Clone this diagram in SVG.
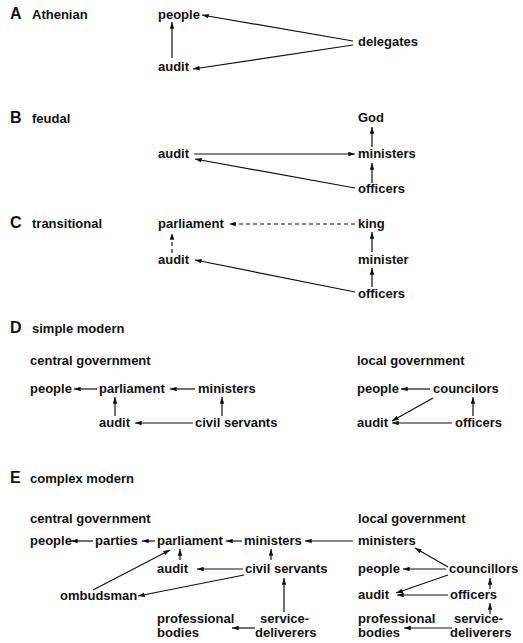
<svg xmlns="http://www.w3.org/2000/svg" width="523" height="643" viewBox="0 0 523 643">
<style>
text { font-family: "Liberation Sans", Arial, sans-serif; font-size: 13px; font-weight: bold; fill: #111; }
.sec { font-size: 16px; }
#connectors line { stroke: #111; stroke-width: 1.2; fill: none; marker-end: url(#ah); }
#connectors line.dash { stroke-dasharray: 4 3; }
</style>
<defs>
<marker id="ah" viewBox="0 0 8 6" refX="8" refY="3" markerWidth="7" markerHeight="5" markerUnits="userSpaceOnUse" orient="auto">
<path d="M0,0.3 L8,3 L0,5.7 z" fill="#111"/>
</marker>
</defs>
<rect width="523" height="643" fill="#fff"/>

<!-- Section A -->
<g id="A-title"><text class="sec" x="10" y="19">A</text><text x="32" y="19">Athenian</text></g>
<g id="A-people"><text x="158" y="19">people</text></g>
<g id="A-audit"><text x="158" y="71">audit</text></g>
<g id="A-delegates"><text x="358" y="46">delegates</text></g>

<!-- Section B -->
<g id="B-title"><text class="sec" x="10" y="123">B</text><text x="32" y="123">feudal</text></g>
<g id="B-God"><text x="358" y="122">God</text></g>
<g id="B-ministers"><text x="358" y="158">ministers</text></g>
<g id="B-audit"><text x="158" y="158">audit</text></g>
<g id="B-officers"><text x="358" y="193">officers</text></g>

<!-- Section C -->
<g id="C-title"><text class="sec" x="10" y="228">C</text><text x="32" y="228">transitional</text></g>
<g id="C-parliament"><text x="158" y="228">parliament</text></g>
<g id="C-king"><text x="358" y="228">king</text></g>
<g id="C-audit"><text x="158" y="264">audit</text></g>
<g id="C-minister"><text x="358" y="264">minister</text></g>
<g id="C-officers"><text x="358" y="298">officers</text></g>

<!-- Section D -->
<g id="D-title"><text class="sec" x="10" y="333">D</text><text x="32" y="333">simple modern</text></g>
<g id="D-central-label"><text x="30" y="365">central government</text></g>
<g id="D-local-label"><text x="357" y="365">local government</text></g>
<g id="D-people"><text x="30" y="393">people</text></g>
<g id="D-parliament"><text x="99" y="393">parliament</text></g>
<g id="D-ministers"><text x="198" y="393">ministers</text></g>
<g id="D-audit"><text x="99" y="427">audit</text></g>
<g id="D-civil-servants"><text x="195" y="427">civil servants</text></g>
<g id="D-local-people"><text x="357" y="393">people</text></g>
<g id="D-councilors"><text x="433" y="393">councilors</text></g>
<g id="D-local-audit"><text x="357" y="427">audit</text></g>
<g id="D-officers"><text x="455" y="427">officers</text></g>

<!-- Section E -->
<g id="E-title"><text class="sec" x="10" y="483">E</text><text x="30" y="483">complex modern</text></g>
<g id="E-central-label"><text x="30" y="523">central government</text></g>
<g id="E-local-label"><text x="358" y="523">local government</text></g>
<g id="E-people"><text x="30" y="545">people</text></g>
<g id="E-parties"><text x="95" y="545">parties</text></g>
<g id="E-parliament"><text x="157" y="545">parliament</text></g>
<g id="E-ministers"><text x="244" y="545">ministers</text></g>
<g id="E-audit"><text x="157" y="573">audit</text></g>
<g id="E-civil-servants"><text x="245" y="573">civil servants</text></g>
<g id="E-ombudsman"><text x="60" y="600">ombudsman</text></g>
<g id="E-professional-bodies"><text x="157" y="623">professional</text><text x="157" y="637">bodies</text></g>
<g id="E-service-deliverers"><text x="260" y="623">service-</text><text x="255" y="637">deliverers</text></g>
<g id="E-local-ministers"><text x="358" y="545">ministers</text></g>
<g id="E-local-people"><text x="358" y="573">people</text></g>
<g id="E-councillors"><text x="449" y="573">councillors</text></g>
<g id="E-local-audit"><text x="358" y="599">audit</text></g>
<g id="E-officers"><text x="450" y="599">officers</text></g>
<g id="E-local-professional-bodies"><text x="358" y="623">professional</text><text x="358" y="637">bodies</text></g>
<g id="E-local-service-deliverers"><text x="454" y="623">service-</text><text x="450" y="637">deliverers</text></g>

<g id="connectors">
<!-- A -->
<line x1="353" y1="41" x2="202" y2="15"/>
<line x1="353" y1="45" x2="193" y2="69"/>
<line x1="172" y1="58" x2="172" y2="22"/>
<!-- B -->
<line x1="194" y1="154" x2="355" y2="154"/>
<line x1="355" y1="188" x2="195" y2="159"/>
<line x1="372" y1="147" x2="372" y2="127"/>
<line x1="372" y1="183" x2="372" y2="163"/>
<!-- C -->
<line class="dash" x1="355" y1="224" x2="229" y2="224"/>
<line class="dash" x1="172" y1="253" x2="172" y2="233"/>
<line x1="372" y1="252" x2="372" y2="232"/>
<line x1="372" y1="287" x2="372" y2="268"/>
<line x1="355" y1="292" x2="195" y2="260"/>
<!-- D central -->
<line x1="97" y1="389" x2="74" y2="389"/>
<line x1="195" y1="389" x2="170" y2="389"/>
<line x1="115" y1="416" x2="115" y2="397"/>
<line x1="222" y1="416" x2="222" y2="397"/>
<line x1="193" y1="423" x2="135" y2="423"/>
<!-- D local -->
<line x1="430" y1="389" x2="401" y2="389"/>
<line x1="433" y1="398" x2="392" y2="421"/>
<line x1="452" y1="423" x2="392" y2="423"/>
<line x1="473" y1="416" x2="473" y2="397"/>
<!-- E central -->
<line x1="93" y1="541" x2="71" y2="541"/>
<line x1="155" y1="541" x2="142" y2="541"/>
<line x1="242" y1="541" x2="226" y2="541"/>
<line x1="353" y1="541" x2="305" y2="541"/>
<line x1="180" y1="560" x2="180" y2="549"/>
<line x1="271" y1="560" x2="271" y2="549"/>
<line x1="243" y1="569" x2="197" y2="569"/>
<line x1="244" y1="575" x2="138" y2="596"/>
<line x1="93" y1="590" x2="170" y2="550"/>
<line x1="284" y1="612" x2="284" y2="578"/>
<line x1="255" y1="628" x2="232" y2="628"/>
<!-- E local -->
<line x1="448" y1="567" x2="415" y2="548"/>
<line x1="446" y1="569" x2="403" y2="569"/>
<line x1="448" y1="575" x2="396" y2="593"/>
<line x1="448" y1="595" x2="397" y2="595"/>
<line x1="490" y1="589" x2="490" y2="578"/>
<line x1="490" y1="614" x2="490" y2="603"/>
<line x1="452" y1="628" x2="404" y2="628"/>
</g>
</svg>
